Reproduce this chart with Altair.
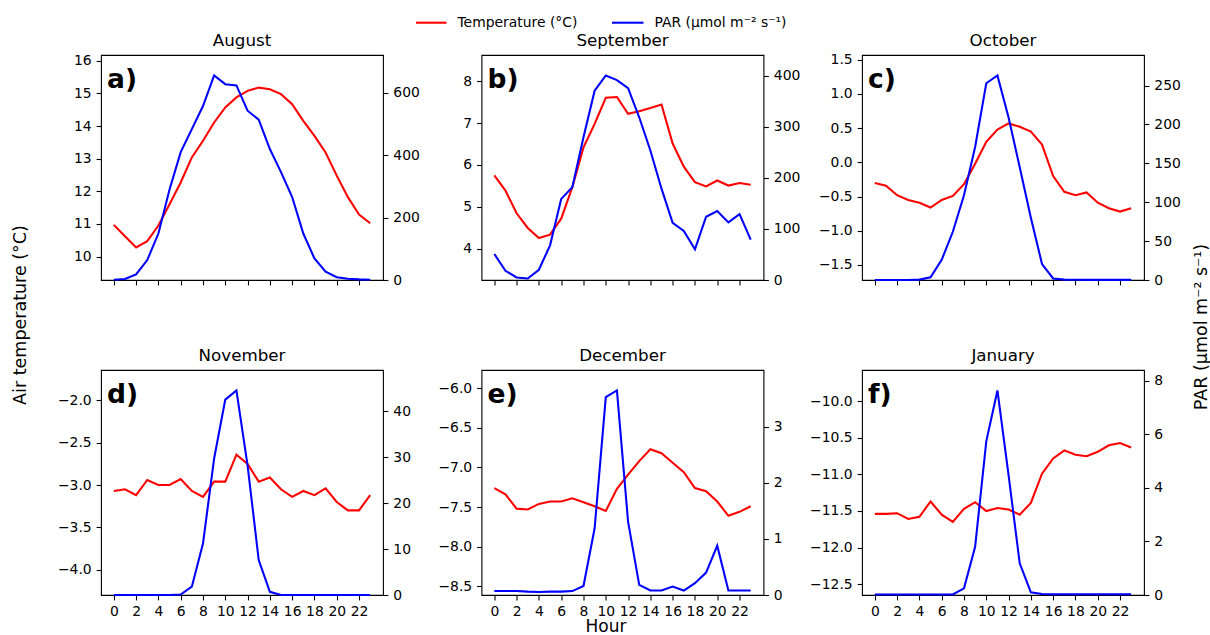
import altair as alt
import pandas as pd

hours = list(range(24))
months = ["August", "September", "October", "November", "December", "January"]
letters = ["a)", "b)", "c)", "d)", "e)", "f)"]

temp_aug = [10.97, 10.62, 10.28, 10.47, 10.95, 11.60, 12.27, 13.04, 13.55, 14.11, 14.57, 14.88,
            15.08, 15.18, 15.13, 14.98, 14.67, 14.16, 13.70, 13.19, 12.48, 11.82, 11.29, 11.02]
par_aug = [1, 3, 18, 64, 149, 290, 410, 484, 558, 656, 628, 624,
           543, 514, 420, 346, 266, 149, 69, 27, 9, 4, 2, 1]

temp_sep = [5.75, 5.39, 4.85, 4.50, 4.26, 4.34, 4.72, 5.47, 6.42, 6.98, 7.60, 7.62,
            7.22, 7.28, 7.36, 7.44, 6.51, 5.96, 5.59, 5.49, 5.63, 5.51, 5.57, 5.53]
par_sep = [51, 18, 5, 3, 20, 68, 159, 182, 280, 371, 401, 392,
           376, 319, 254, 179, 112, 96, 60, 124, 135, 113, 129, 79]

temp_oct = [-0.30, -0.34, -0.48, -0.55, -0.59, -0.66, -0.55, -0.49, -0.32, -0.02, 0.30, 0.48,
            0.57, 0.52, 0.45, 0.26, -0.20, -0.43, -0.48, -0.44, -0.59, -0.67, -0.72, -0.67]
par_oct = [0, 0, 0, 0, 0.5, 3.5, 26, 62, 109, 171, 253, 263,
           209, 145, 80, 20.5, 2, 0.5, 0.3, 0.2, 0.2, 0.2, 0.2, 0.2]

temp_nov = [-3.07, -3.05, -3.12, -2.94, -3.00, -3.00, -2.93, -3.07, -3.14, -2.96, -2.96, -2.64,
            -2.75, -2.96, -2.91, -3.05, -3.14, -3.07, -3.12, -3.04, -3.20, -3.30, -3.30, -3.12]
par_nov = [0, 0, 0, 0, 0, 0, 0.1, 1.8, 11.2, 29.7, 42.5, 44.5,
           28.2, 7.6, 0.7, 0, 0, 0, 0, 0, 0, 0, 0, 0]

temp_dec = [-7.26, -7.34, -7.52, -7.53, -7.46, -7.43, -7.43, -7.39, -7.44, -7.49, -7.55, -7.27,
            -7.09, -6.92, -6.77, -6.82, -6.94, -7.06, -7.26, -7.30, -7.43, -7.61, -7.56, -7.49]
par_dec = [0.07, 0.07, 0.07, 0.06, 0.055, 0.06, 0.06, 0.07, 0.16, 1.19, 3.53, 3.65,
           1.31, 0.18, 0.08, 0.08, 0.15, 0.08, 0.21, 0.40, 0.88, 0.08, 0.08, 0.08]

temp_jan = [-11.54, -11.54, -11.53, -11.61, -11.58, -11.37, -11.55, -11.65, -11.47, -11.38, -11.50, -11.46,
            -11.48, -11.55, -11.39, -10.99, -10.78, -10.67, -10.73, -10.75, -10.69, -10.60, -10.57, -10.63]
par_jan = [0.02, 0.02, 0.02, 0.02, 0.02, 0.02, 0.02, 0.02, 0.25, 1.80, 5.73, 7.63,
           4.47, 1.18, 0.10, 0.04, 0.03, 0.03, 0.03, 0.03, 0.03, 0.03, 0.03, 0.03]

temp_series = [temp_aug, temp_sep, temp_oct, temp_nov, temp_dec, temp_jan]
par_series = [par_aug, par_sep, par_oct, par_nov, par_dec, par_jan]

temp_ticks = [
    [10, 11, 12, 13, 14, 15, 16],
    [4, 5, 6, 7, 8],
    [-1.5, -1.0, -0.5, 0.0, 0.5, 1.0, 1.5],
    [-4.0, -3.5, -3.0, -2.5, -2.0],
    [-8.5, -8.0, -7.5, -7.0, -6.5, -6.0],
    [-12.5, -12.0, -11.5, -11.0, -10.5, -10.0],
]
temp_formats = ["d", "d", ".1f", ".1f", ".1f", ".1f"]
par_ticks = [
    [0, 200, 400, 600],
    [0, 100, 200, 300, 400],
    [0, 50, 100, 150, 200, 250],
    [0, 10, 20, 30, 40],
    [0, 1, 2, 3],
    [0, 2, 4, 6, 8],
]
hour_ticks = list(range(0, 23, 2))

legend_labels = ["Temperature (°C)", "PAR (μmol m⁻² s⁻¹)"]
y_left_title = "Air temperature (°C)"
y_right_title = "PAR (μmol m⁻² s⁻¹)"
x_title = "Hour"

W, H = 282, 225
FONT = "DejaVu Sans"
RED = "#ff0000"
BLUE = "#0000ff"
LW = 2.08
one = pd.DataFrame({"k": [0]})


def txt(text, x, y, size=17.5, align="center", baseline="alphabetic", angle=0, weight="normal"):
    return alt.Chart(one).mark_text(
        text=text, align=align, baseline=baseline, angle=angle, fontSize=size,
        font=FONT, fontWeight=weight, color="black"
    ).encode(x=alt.value(x), y=alt.value(y))


def rule(x1, x2, y, color):
    return alt.Chart(one).mark_rule(color=color, strokeWidth=LW).encode(
        x=alt.value(x1), x2=alt.value(x2), y=alt.value(y))


def panel(i):
    t = temp_series[i]
    p = par_series[i]
    df = pd.DataFrame({"hour": hours, "temp": t, "par": p})
    bottom = i >= 3
    xenc = alt.X("hour:Q",
                 scale=alt.Scale(domain=[-1.15, 24.15], nice=False, zero=False),
                 axis=alt.Axis(values=hour_ticks, labels=bottom, format="d", title=None))
    temp_line = alt.Chart(df).mark_line(color=RED, strokeWidth=LW).encode(
        x=xenc,
        y=alt.Y("temp:Q",
                scale=alt.Scale(domain=[min(t) - 1, max(t) + 1], nice=False, zero=False),
                axis=alt.Axis(orient="left", values=temp_ticks[i], format=temp_formats[i], title=None)),
    )
    par_line = alt.Chart(df).mark_line(color=BLUE, strokeWidth=LW).encode(
        x=xenc,
        y=alt.Y("par:Q",
                scale=alt.Scale(domain=[0, max(p) * 1.1], nice=False, zero=False),
                axis=alt.Axis(orient="right", values=par_ticks[i], format="d", title=None)),
    )
    layers = [temp_line, par_line,
              txt(letters[i], 6, 33, size=26.5, align="left", weight="bold"),
              txt(months[i], W / 2, -9.3, size=16.7)]
    if i == 0:
        layers.append(txt(y_left_title, -80.5, 260, angle=270, baseline="middle"))
    if i == 1:
        layers += [
            rule(-65.5, -35, -32.3, RED),
            txt(legend_labels[0], -24, -27.7, size=13.9, align="left"),
            rule(130.5, 162, -32.3, BLUE),
            txt(legend_labels[1], 173, -27.7, size=13.9, align="left"),
        ]
    if i == 2:
        layers.append(txt(y_right_title, 339.5, 272, angle=270, baseline="middle"))
    if i == 4:
        layers.append(txt(x_title, 124.5, 262, size=17))
    return alt.layer(*layers).resolve_scale(y="independent").properties(width=W, height=H)


chart = alt.concat(
    *[panel(i) for i in range(6)],
    columns=3,
    spacing={"column": 98.5, "row": 90},
    bounds="flush",
    align="each",
).properties(
    autosize=alt.AutoSizeParams(type="none"),
    padding={"left": 101, "top": 55, "right": 1109, "bottom": 580},
).configure_view(
    stroke="black", strokeWidth=1.1
).configure_axis(
    labelFont=FONT, labelFontSize=13.9, labelColor="black",
    tickColor="black", tickWidth=1.1, tickSize=4.9, labelPadding=4.9,
    grid=False, domain=False, labelFlush=False, labelOverlap=False,
)

chart.save("out.html", embed_options={"renderer": "svg", "actions": False})
